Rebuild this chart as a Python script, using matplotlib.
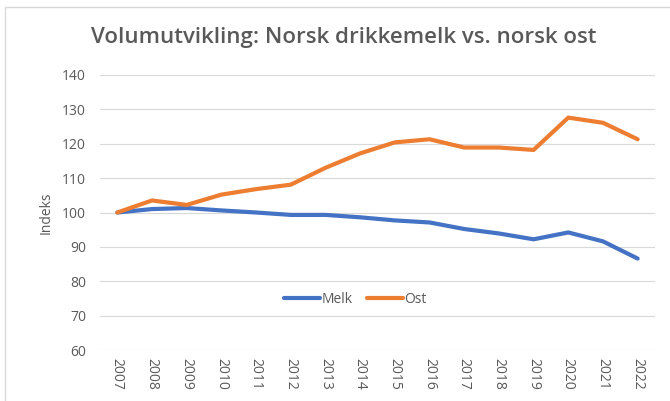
import matplotlib
matplotlib.use("Agg")
import matplotlib.pyplot as plt
from matplotlib.patches import Rectangle

years = ["2007", "2008", "2009", "2010", "2011", "2012", "2013", "2014",
         "2015", "2016", "2017", "2018", "2019", "2020", "2021", "2022"]
melk = [100.0, 101.0, 101.3, 100.6, 100.0, 99.3, 99.3, 98.6,
        97.7, 97.1, 95.2, 93.9, 92.2, 94.2, 91.6, 86.6]
ost = [100.0, 103.5, 102.2, 105.2, 106.8, 108.1, 113.0, 117.2,
       120.4, 121.3, 118.9, 118.9, 118.2, 127.6, 126.1, 121.3]

plt.rcParams['font.family'] = ['Open Sans', 'DejaVu Sans']
gray = '#595959'

fig = plt.figure(figsize=(6.70, 4.01), dpi=100)
fig.patches.append(Rectangle((5/670, -0.1), 1.2, 1 - 7/401 + 0.1,
                             transform=fig.transFigure, fill=False,
                             edgecolor='#d9d9d9', linewidth=1.0))
ax = fig.add_axes([100/670, 1 - 350/401, 555/670, (350 - 75)/401])

x = list(range(len(years)))
ax.plot(x, melk, color='#4472C4', linewidth=3.0, label='Melk', solid_capstyle='round')
ax.plot(x, ost, color='#ED7D31', linewidth=3.0, label='Ost', solid_capstyle='round')

ax.set_xlim(-0.5, len(years) - 0.5)
ax.set_ylim(60, 140)
ax.set_yticks(range(60, 141, 10))
ax.set_xticks(x)
ax.set_xticklabels(years, rotation=270, fontsize=10, color=gray)
ax.tick_params(axis='y', labelsize=10, labelcolor=gray, length=0, pad=10)
ax.tick_params(axis='x', length=0, pad=6)
ax.grid(axis='y', color='#d9d9d9', linewidth=0.8)
ax.set_axisbelow(True)
for s in ax.spines.values():
    s.set_visible(False)
ax.set_ylabel('Indeks', fontsize=10, color=gray, labelpad=6)

fig.text(0.513, 1 - 38/401, 'Volumutvikling: Norsk drikkemelk vs. norsk ost',
         ha='center', va='center', fontsize=16, fontweight='semibold', color=gray)

leg = ax.legend(loc='center', bbox_to_anchor=(0.46, 0.185), ncol=2, frameon=False,
                fontsize=10, handlelength=2.6, handletextpad=0.1, columnspacing=1.0)
for t in leg.get_texts():
    t.set_color(gray)

fig.savefig('out.png', dpi=100)
